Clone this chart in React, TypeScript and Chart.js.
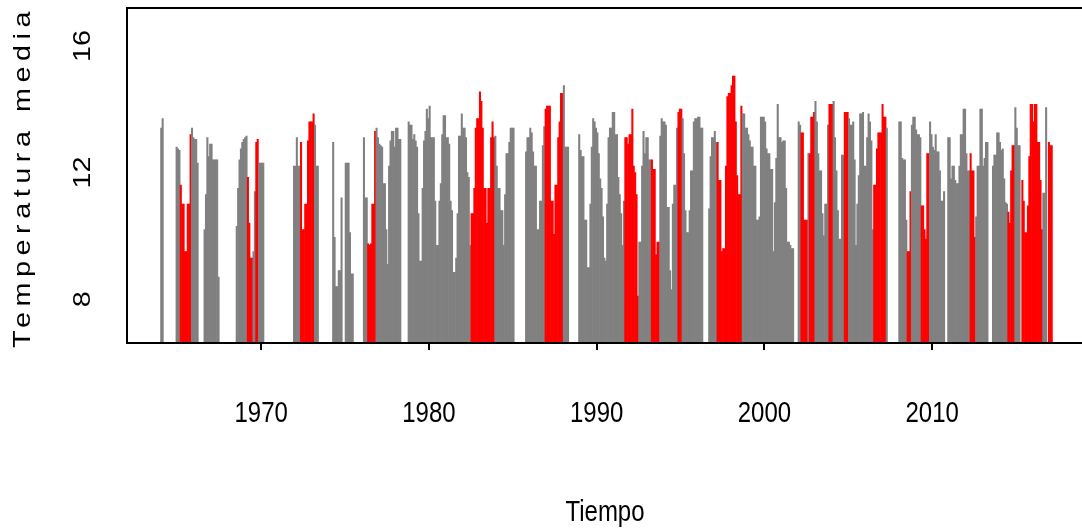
import React, { useEffect, useRef } from 'react';
import { Chart, registerables } from 'chart.js';

Chart.register(...registerables);

const N = null;
const firstYear = 1964;

// Monthly mean temperature (Jan..Dec), one row per year
const temps1964_1973: (number | null)[][] = [
  [13.4, 13.7, N, N, N, N, N, N, N, N, N, 12.8],
  [12.75, 12.7, 11.6, 11.0, 11.0, 9.5, 9.5, 11.0, 11.0, 13.2, 13.4, 13.1],
  [13.05, 13.05, 12.3, N, N, N, N, 10.2, 11.3, 13.1, 12.5, 12.9],
  [12.9, 12.4, 12.4, 12.4, 12.4, 8.7, N, N, N, N, N, N],
  [N, N, N, N, N, N, 10.3, 11.5, 12.4, 12.75, 12.95, 13.05],
  [13.1, 13.15, 11.85, 10.4, 9.3, 9.3, 9.5, 11.4, 12.95, 13.05, 12.3, 12.3],
  [12.3, 12.3, N, N, N, N, N, N, N, N, N, N],
  [N, N, N, N, N, N, N, N, N, N, N, 12.2],
  [12.2, 13.1, 12.2, 12.2, 12.95, 10.2, 10.2, 11.0, 11.0, 13.0, 13.6, 13.6],
  [13.6, 13.85, 13.5, 12.2, 12.2, N, N, N, N, N, N, N],
];

const temps1974_1983: (number | null)[][] = [
  [N, N, N, 12.95, 9.95, 8.4, 8.4, 8.9, 8.9, 11.2, N, N],
  [12.3, 12.3, 12.3, 10.1, 8.8, 8.8, N, N, N, N, N, N],
  [N, 13.1, 11.2, 11.2, 9.75, 9.7, 9.75, 11.0, 11.0, 13.3, 13.4, 13.1],
  [12.9, 12.85, 12.8, 11.65, 11.65, 10.2, 9.1, 12.2, 13.0, 13.3, 13.3, 12.8],
  [13.4, 13.4, 13.05, 13.05, N, N, N, N, N, 13.6, 13.5, 13.5],
  [13.05, 13.2, 13.0, 12.8, 10.7, 9.2, 9.2, 11.5, 13.0, 13.3, 14.0, 13.7],
  [14.1, 13.1, 13.1, 13.1, 11.1, 9.7, 9.7, 11.1, 11.65, 13.2, 13.8, 13.8],
  [13.1, 13.1, 12.9, 11.1, 10.8, 8.85, 8.85, 9.3, 10.7, 13.15, 13.15, 13.85],
  [13.4, 13.4, 13.1, 12.0, 11.85, 9.7, 10.7, 10.7, 11.5, 13.4, 13.7, 13.7],
  [14.55, 14.25, 13.4, 11.5, 11.5, 10.4, 11.5, 11.5, 13.1, 13.6, 13.1, 13.15],
];

const temps1984_1993: (number | null)[][] = [
  [12.2, 11.5, 11.5, 10.8, 10.8, 9.7, 11.3, 12.6, 12.6, 12.95, 13.4, 13.4],
  [13.4, N, N, N, N, N, N, N, N, 12.65, 13.1, 13.1],
  [13.4, 13.25, 12.65, 12.2, 12.2, 10.2, 10.2, 11.1, 11.1, 12.85, 13.45, 14.0],
  [14.1, 14.1, 14.1, 11.1, 11.1, 10.05, 11.6, 11.6, 13.1, 13.6, 14.5, 14.5],
  [14.75, 12.8, 12.8, 12.8, N, N, N, N, N, N, N, 13.2],
  [12.7, 12.5, 12.5, 10.5, 10.5, 9.0, 9.0, 11.0, 12.8, 13.7, 13.6, 13.4],
  [13.25, 12.6, 11.8, 11.5, 10.6, 9.3, 9.2, 11.0, 13.1, 13.4, 13.4, 13.9],
  [13.9, 13.2, 13.2, 11.85, 11.3, 10.7, 9.7, 11.1, 13.1, 13.1, 12.9, 13.2],
  [13.2, 14.0, 12.2, 12.0, 11.3, 8.1, 9.8, 9.8, 12.2, 13.3, 12.6, 13.1],
  [13.1, 12.4, 12.4, 12.4, 12.1, 12.1, 9.4, 9.8, 9.8, 13.15, 13.7, 13.6],
];

const temps1994_2003: (number | null)[][] = [
  [13.6, 13.5, 10.9, 10.9, 8.9, 8.3, 11.0, 11.6, 11.6, 13.4, 13.9, 14.0],
  [14.0, 13.7, 12.6, 10.8, 10.1, 10.1, 10.8, 12.05, 12.05, 13.6, 13.7, 13.7],
  [13.75, 13.75, 13.4, 13.4, N, N, N, N, 10.85, 12.5, 13.1, 13.1],
  [13.3, 12.95, 12.95, 11.75, 11.75, 9.5, 9.6, 9.6, 12.2, 14.4, 14.5, 14.5],
  [14.75, 15.05, 15.05, 13.6, 11.9, 11.3, 11.3, 14.1, 13.85, 13.85, 13.4, 13.4],
  [13.2, 13.0, 12.8, 12.8, 12.2, 12.2, 10.5, 10.5, 10.6, 13.75, 13.75, 13.75],
  [13.6, 12.75, 12.6, 12.6, 12.1, 12.1, 9.5, 11.05, 12.45, 14.15, 13.1, 13.1],
  [12.95, 13.0, 13.0, 11.5, 9.8, 9.8, 9.7, 9.6, 9.6, N, N, N],
  [13.6, 13.5, 13.25, 13.25, 10.5, 10.5, 10.5, 12.6, 12.6, 13.75, 13.75, 13.9],
  [14.25, 13.6, 12.6, 12.05, 12.05, 10.7, 10.0, 11.0, 11.0, 13.5, 14.15, 14.15],
];

const temps2004_2017: (number | null)[][] = [
  [14.15, 14.25, 13.1, 12.05, 10.8, 9.9, 9.9, 12.55, 12.55, 13.9, 13.9, 13.9],
  [13.7, 13.5, 13.5, 13.6, 12.4, 9.7, 11.0, 11.9, 13.85, 13.85, 13.9, 12.2],
  [12.2, 13.1, 13.85, 13.6, 13.0, 10.2, 11.6, 11.6, 12.75, 13.25, 13.25, 13.25],
  [14.15, 13.75, 13.75, 13.4, N, N, N, N, N, N, N, N],
  [13.6, 13.6, 12.45, 12.4, 12.4, 10.5, 9.5, 9.5, 11.4, 13.5, 13.75, 13.75],
  [13.35, 13.2, 13.2, 13.1, 10.95, 10.95, 10.2, 9.9, 12.6, 12.6, 13.6, 13.2],
  [12.8, 12.7, 13.2, 12.65, 12.65, 12.05, 11.1, 11.1, 11.4, N, N, 13.1],
  [13.1, 11.8, 12.2, 12.2, 11.75, 11.65, 11.65, 12.2, 13.2, 13.2, 14.0, 14.0],
  [12.6, 12.05, 12.05, 12.6, 12.05, 12.05, 9.95, 10.6, 12.2, 12.2, 14.0, 14.0],
  [12.2, 12.45, 12.95, 12.95, N, N, N, 12.2, 12.55, 12.55, 13.25, 13.25],
  [12.95, 12.7, 12.75, 11.8, 11.05, 11.0, 10.75, 10.4, 12.05, 12.85, 12.85, 14.05],
  [13.4, 12.85, 12.85, N, 11.75, 11.1, 10.1, 10.1, 10.95, 12.5, 14.15, 14.15],
  [13.6, 14.15, 14.15, 12.95, 12.95, 11.75, 10.2, 11.35, 11.35, 14.05, N, 12.95],
  [12.85, 12.85, N, N, N, N, N, N, N, N, N, N],
];

// Months drawn in red (El Niño episodes)
const ninoRanges: [string, string][] = [
  ['1965-03', '1965-10'], ['1969-03', '1969-06'], ['1969-09', '1969-10'],
  ['1972-05', '1973-02'], ['1976-05', '1976-10'], ['1982-07', '1983-11'],
  ['1986-12', '1987-12'], ['1991-09', '1992-06'], ['1993-04', '1993-09'],
  ['1994-11', '1995-01'], ['1997-03', '1998-08'], ['2002-03', '2002-07'],
  ['2002-09', '2002-12'], ['2003-11', '2004-01'], ['2004-10', '2004-12'],
  ['2006-07', '2007-03'], ['2008-07', '2008-09'], ['2009-05', '2009-10'],
  ['2012-04', '2012-07'], ['2014-07', '2014-11'], ['2015-05', '2016-07'],
  ['2016-12', '2017-02'],
];

const xTicks = [1970, 1980, 1990, 2000, 2010];
const yTicks = [8, 12, 16];
const xTitle = 'Tiempo';
const yTitle = 'Temperatura media';

const GRAY = '#808080';
const RED = '#ff0000';

function monthKey(s: string) {
  const [y, m] = s.split('-').map(Number);
  return y * 12 + (m - 1);
}

function buildData() {
  const rows = [...temps1964_1973, ...temps1974_1983, ...temps1984_1993, ...temps1994_2003, ...temps2004_2017];
  const ranges = ninoRanges.map(([a, b]) => [monthKey(a), monthKey(b)]);
  const pts: { x: number; y: number }[] = [];
  const colors: string[] = [];
  rows.forEach((row, i) => {
    row.forEach((v, m) => {
      if (v === null) return;
      const year = firstYear + i;
      const key = year * 12 + m;
      const isRed = ranges.some(([a, b]) => key >= a && key <= b);
      pts.push({ x: year + (m + 0.5) / 12, y: v });
      colors.push(isRed ? RED : GRAY);
    });
  });
  return { pts, colors };
}

function drawText(ctx: CanvasRenderingContext2D, text: string, x: number, y: number, rot: number, stretch: number, font: string, spacing = 0) {
  ctx.save();
  ctx.translate(x, y);
  ctx.rotate(rot);
  if (rot === 0) ctx.scale(1, stretch);
  else ctx.scale(stretch, 1);
  ctx.font = font;
  (ctx as any).letterSpacing = spacing + 'px';
  ctx.fillStyle = '#000';
  ctx.textAlign = 'center';
  ctx.textBaseline = 'middle';
  ctx.fillText(text, 0, 0);
  ctx.restore();
}

const overlay = {
  id: 'overlay',
  afterDraw(chart: any) {
    const { ctx, chartArea: a, scales } = chart;
    const xs = scales.x;
    const ys = scales.y;
    ctx.save();
    ctx.strokeStyle = '#000';
    ctx.lineWidth = 2;
    ctx.beginPath();
    ctx.moveTo(a.left - 1, a.top);
    ctx.lineTo(a.right, a.top);
    ctx.moveTo(a.left, a.top);
    ctx.lineTo(a.left, a.bottom);
    ctx.moveTo(a.left - 1, a.bottom);
    ctx.lineTo(a.right, a.bottom);
    for (const t of xTicks) {
      const px = Math.round(xs.getPixelForValue(t));
      ctx.moveTo(px, a.bottom);
      ctx.lineTo(px, a.bottom + 7);
    }
    ctx.stroke();
    ctx.restore();
    const f = '24px "Liberation Sans", Arial, sans-serif';
    for (const t of xTicks) {
      drawText(ctx, String(t), xs.getPixelForValue(t), 414, 0, 1.2, f);
    }
    for (const t of yTicks) {
      drawText(ctx, String(t), 83, ys.getPixelForValue(t), -Math.PI / 2, 1.2, f);
    }
    drawText(ctx, xTitle, 605, 513, 0, 1.2, f);
    drawText(ctx, yTitle, 23, 177, -Math.PI / 2, 1.2, f, 4.6);
  },
};

export default function App() {
  const ref = useRef<HTMLCanvasElement>(null);
  useEffect(() => {
    if (!ref.current) return;
    const { pts, colors } = buildData();
    const chart = new Chart(ref.current, {
      type: 'bar',
      data: {
        datasets: [
          {
            data: pts as any,
            backgroundColor: colors,
            borderWidth: 0,
            barPercentage: 1,
            categoryPercentage: 1,
          },
        ],
      },
      options: {
        animation: false,
        responsive: false,
        maintainAspectRatio: false,
        devicePixelRatio: 1,
        layout: { padding: { top: 8, left: 0, right: 0, bottom: 0 } },
        plugins: { legend: { display: false }, tooltip: { enabled: false }, title: { display: false } },
        scales: {
          x: {
            type: 'linear',
            min: 1962.0,
            max: 2018.93,
            offset: false,
            grid: { display: false },
            border: { display: false },
            ticks: { display: false },
            afterFit: (s: any) => { s.height = 188; },
          },
          y: {
            type: 'linear',
            min: 6.614,
            max: 17.197,
            grid: { display: false },
            border: { display: false },
            ticks: { display: false },
            afterFit: (s: any) => { s.width = 127; },
          },
        },
      },
      plugins: [overlay],
    });
    return () => chart.destroy();
  }, []);
  return (
    <div style={{ position: 'absolute', left: 0, top: 0, width: 1082, height: 531, background: '#fff' }}>
      <canvas ref={ref} width={1082} height={531} style={{ width: 1082, height: 531, display: 'block' }} />
    </div>
  );
}
